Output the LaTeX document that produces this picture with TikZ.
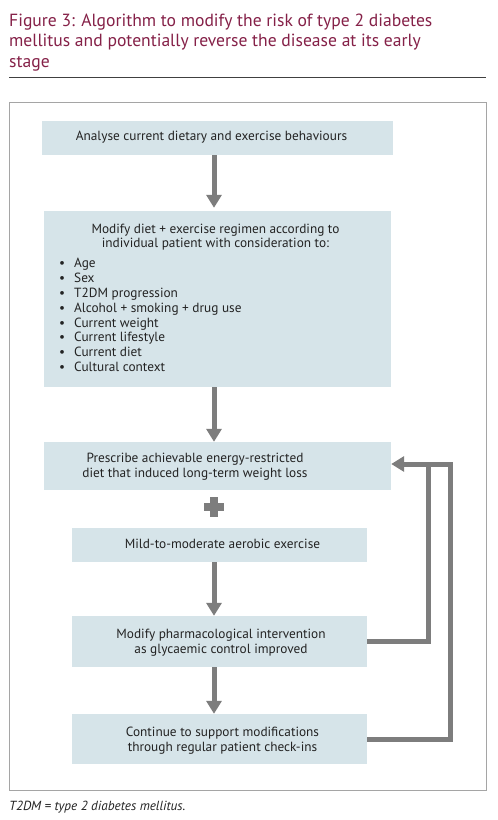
\documentclass[tikz,border=0pt]{standalone}
\usepackage{fontspec}
\setmainfont{PT Sans}
\usetikzlibrary{arrows.meta}
\definecolor{titlec}{RGB}{133,33,72}
\definecolor{boxc}{RGB}{214,228,233}
\definecolor{arrc}{RGB}{125,125,125}
\definecolor{framec}{RGB}{165,165,165}
\definecolor{rulec}{RGB}{64,64,64}
\definecolor{textc}{RGB}{35,35,35}
\begin{document}
\begin{tikzpicture}[x=1pt,y=-1pt,
  box/.style={fill=boxc, draw=none, inner sep=0pt, rectangle},
  txt/.style={font=\fontsize{13.3}{14.9}\selectfont, text=textc, align=center, inner sep=0pt},
  listtxt/.style={font=\fontsize{13.3}{14.86}\selectfont, text=textc, align=left, inner sep=0pt},
  titletxt/.style={font=\fontsize{17.6}{21}\selectfont, text=titlec, inner sep=0pt, anchor=base west},
  arr/.style={draw=arrc, line width=5pt, -{Triangle[width=15pt,length=13pt]}},
  fb/.style={draw=arrc, line width=5pt}]
\useasboundingbox (0,0) rectangle (498,820);
\fill[white] (0,0) rectangle (498,820);
% title
\node[titletxt] (t1) at (9,26) {Figure 3: Algorithm to modify the risk of type 2 diabetes};
\node[titletxt] (t2) at (9,46.7) {mellitus and potentially reverse the disease at its early};
\node[titletxt] (t3) at (9,67.3) {stage};
\coordinate (r1) at (9,77);
\coordinate (r2) at (486,77);
\draw[rulec, line width=1pt] (r1) -- (r2);
% frame
\node[draw=framec, line width=0.8pt, minimum width=477pt, minimum height=688pt, inner sep=0pt, anchor=north west] (frame) at (9,102) {};
% boxes
\node[box, minimum width=351pt, minimum height=34pt] (b1) at (217.5,138) {};
\node[txt] (t1b) at (211.5,137) {Analyse current dietary and exercise behaviours};
\node[box, minimum width=347pt, minimum height=176pt] (b2) at (217.5,299) {};
\node[txt, font=\fontsize{13.3}{14.2}\selectfont] (t2h) at (215.5,237) {Modify diet + exercise regimen according to\\individual patient with consideration to:};
\node[listtxt, anchor=west] (t2l) at (59,315) {%
\makebox[15pt][l]{\textbullet}Age\\
\makebox[15pt][l]{\textbullet}Sex\\
\makebox[15pt][l]{\textbullet}T2DM progression\\
\makebox[15pt][l]{\textbullet}Alcohol + smoking + drug use\\
\makebox[15pt][l]{\textbullet}Current weight\\
\makebox[15pt][l]{\textbullet}Current lifestyle\\
\makebox[15pt][l]{\textbullet}Current diet\\
\makebox[15pt][l]{\textbullet}Cultural context};
\node[box, minimum width=347pt, minimum height=48pt] (b3) at (217.5,466) {};
\node[txt] (t3b) at (195,467) {Prescribe achievable energy-restricted\\diet that induced long-term weight loss};
\node[box, minimum width=295pt, minimum height=34pt] (b4) at (219.5,545) {};
\node[txt] (t4b) at (222.5,544) {Mild-to-moderate aerobic exercise};
\node[box, minimum width=295pt, minimum height=51pt] (b5) at (219.5,641.5) {};
\node[txt] (t5b) at (221,642.5) {Modify pharmacological intervention\\as glycaemic control improved};
\node[box, minimum width=295pt, minimum height=50pt] (b6) at (219.5,739) {};
\node[txt] (t6b) at (222.5,740.5) {Continue to support modifications\\through regular patient check-ins};
% plus sign
\fill[arrc] (204,503) rectangle (224,511);
\fill[arrc] (210,497) rectangle (218,517);
% arrows
\coordinate (ax) at (214,0);
\draw[arr] (b1.south -| ax) -- ([yshift=3pt]b2.north -| ax);
\draw[arr] (b2.south -| ax) -- (b3.north -| ax);
\draw[arr] (b4.south -| ax) -- (b5.north -| ax);
\draw[arr] (b5.south -| ax) -- (b6.north -| ax);
% feedback
\coordinate (fx1) at (428,464);
\coordinate (fx2) at (450,464);
\draw[fb] (b6.east) -| (fx2) -- (fx1);
\draw[fb, -{Triangle[width=15pt,length=13pt]}] (b5.east) -| (fx1) -- (b3.east |- fx1);
% footnote
\node[anchor=base west, inner sep=0pt, text=textc, font=\itshape\fontsize{13.2}{14}\selectfont] (fn) at (9,810) {T2DM = type 2 diabetes mellitus.};
\end{tikzpicture}
\end{document}
